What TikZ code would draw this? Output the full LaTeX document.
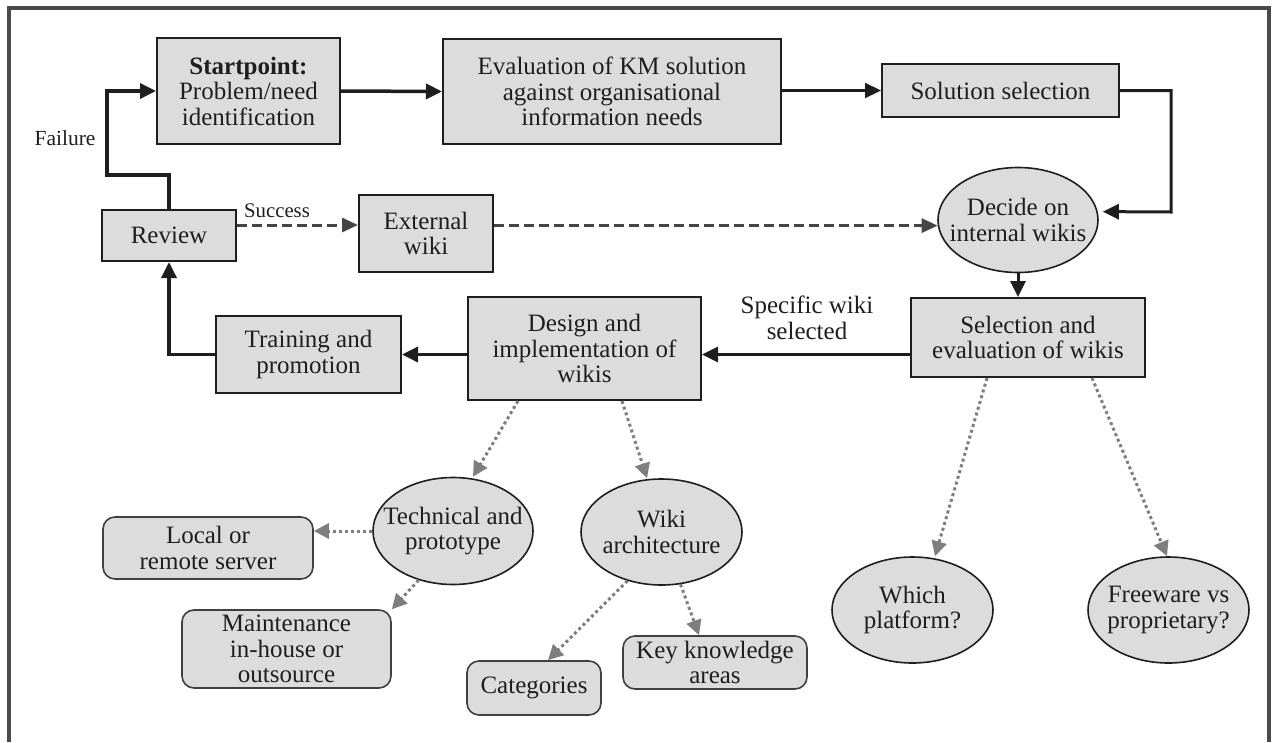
\documentclass[tikz,border=0pt]{standalone}
\usepackage{fontspec}
\setmainfont{Liberation Serif}
\usetikzlibrary{shapes.geometric,arrows.meta,calc}
\definecolor{boxfill}{HTML}{DCDCDC}
\definecolor{ink}{HTML}{1E1E1E}
\definecolor{framegray}{HTML}{4A4A4A}
\definecolor{dashgray}{HTML}{454545}
\definecolor{dotgray}{HTML}{7E7E7E}
\begin{document}
\begin{tikzpicture}[x=1pt,y=-1pt,
  txt/.style={font=\fontsize{25}{25.5}\selectfont, text=ink, align=center},
  box/.style={txt, draw=ink, fill=boxfill, line width=2pt, rectangle, inner sep=0pt},
  rbox/.style={box, rounded corners=12pt, line width=1.6pt, draw=ink!85},
  % ellipses keep their given size; the text sits on top as a centred label
  ell/.style={draw=ink, fill=boxfill, line width=1.6pt, ellipse, inner sep=0pt,
    label={[txt]center:#1}},
  lbl/.style={font=\fontsize{21.5}{22}\selectfont, text=ink},
  arr/.style={draw=ink, line width=3.5pt, -{Triangle[length=16pt,width=15pt]}},
  thinarr/.style={arr, line width=2.2pt},
  dasharr/.style={draw=dashgray, line width=3pt, dash pattern=on 10pt off 5pt, -{Triangle[length=16pt,width=14pt]}},
  dotarr/.style={draw=dotgray, line width=3pt, dash pattern=on 3pt off 3pt, -{Triangle[length=15pt,width=15pt]}}
]
\useasboundingbox (0,0) rectangle (1277,742);

% open frame
\draw[framegray, line width=4pt] (9,742) -- (9,8) -- (1269,8) -- (1269,742);

% main process row
\node[box, minimum width=183pt, minimum height=106pt] (start) at (248.5,91)
  {\textbf{Startpoint:}\\Problem/need\\identification};
\node[box, minimum width=338pt, minimum height=105pt] (eval) at (612,91.5)
  {Evaluation of KM solution\\against organisational\\information needs};
\node[box, minimum width=237pt, minimum height=53pt] (solsel) at (1000.5,90.5)
  {Solution selection};
\node[ell={Decide on\\internal wikis}, minimum width=160pt, minimum height=105pt] (decide) at (1018,220) {};
\node[box, minimum width=234pt, minimum height=79pt] (selev) at (1028,337.5)
  {Selection and\\evaluation of wikis};
\node[box, minimum width=134pt, minimum height=51pt] (review) at (169,235.5)
  {Review};
\node[box, minimum width=134pt, minimum height=77pt] (ext) at (426,233.5)
  {External\\wiki};
\node[box, minimum width=233pt, minimum height=103pt] (design) at (584.5,348.5)
  {Design and\\implementation of\\wikis};
\node[box, minimum width=185pt, minimum height=77pt] (training) at (308.5,354.5)
  {Training and\\promotion};

% sub-topics
\node[ell={Technical and\\prototype}, minimum width=160pt, minimum height=107pt] (tech) at (453,531) {};
\node[rbox, minimum width=210pt, minimum height=62pt] (local) at (208,548)
  {Local or\\remote server};
\node[rbox, minimum width=209pt, minimum height=78pt] (maint) at (286.5,649)
  {Maintenance\\in-house or\\outsource};
\node[ell={Wiki\\architecture}, minimum width=161pt, minimum height=106pt] (wikiarch) at (661.5,532) {};
\node[rbox, minimum width=134pt, minimum height=54pt] (cat) at (534,688)
  {Categories};
\node[rbox, minimum width=184pt, minimum height=53pt] (key) at (715,662.5)
  {Key knowledge\\areas};
\node[ell={Which\\platform?}, minimum width=161pt, minimum height=106pt] (which) at (912.5,610) {};
\node[ell={Freeware vs\\proprietary?}, minimum width=161pt, minimum height=106pt] (free) at (1168.5,610) {};

% labels
\node[lbl] (failure) at (65,138) {Failure};
\node[lbl, font=\fontsize{20.8}{22}\selectfont] (success) at (277,211) {Success};
\node[txt] (specific) at (807,318) {Specific wiki\\selected};

% connectors
\coordinate (cA) at (1171,212);
\coordinate (cB) at (107,175);
\draw[arr] (start.east) -- (eval.west);
\draw[thinarr] (eval.east |- solsel.west) -- (solsel.west);
\draw[arr, line width=3pt] (solsel.east) -| (cA) -- ($(decide.6)+(5,0)$);
\draw[arr, line width=3pt] (decide.south) -- (decide.south |- selev.north);
\draw[arr, line width=3pt] (selev.west |- training) -- (design.east |- training);
\draw[arr] (design.west |- training) -- (training.east);
\draw[arr] (training.west) -| (review.south);
\draw[arr] (review.north) |- (cB) |- (start.west);

\coordinate (s1) at ($(review.east)+(0,-10.5)$);
\draw[dasharr] (s1) -- (s1 -| ext.west);
\draw[dasharr] (ext.east |- decide.184) -- (decide.184);

\draw[dotarr] ([xshift=-66.5pt]design.south) -- ([xshift=20pt]tech.north);
\draw[dotarr] ([xshift=37.5pt]design.south) -- ([xshift=-14.5pt]wikiarch.north);
\draw[dotarr] (tech.west) -- (tech.west -| local.east);
\draw[dotarr] (tech.235) -- (maint.north east);
\draw[dotarr] (wikiarch.235) -- ([xshift=14pt]cat.north);
\draw[dotarr] (wikiarch.290) -- ([xshift=-16pt]key.north);
\draw[dotarr] ([xshift=-41pt]selev.south) -- ([xshift=22.5pt]which.north);
\draw[dotarr] ([xshift=64pt]selev.south) -- ([xshift=-1.5pt]free.north);
\end{tikzpicture}
\end{document}
